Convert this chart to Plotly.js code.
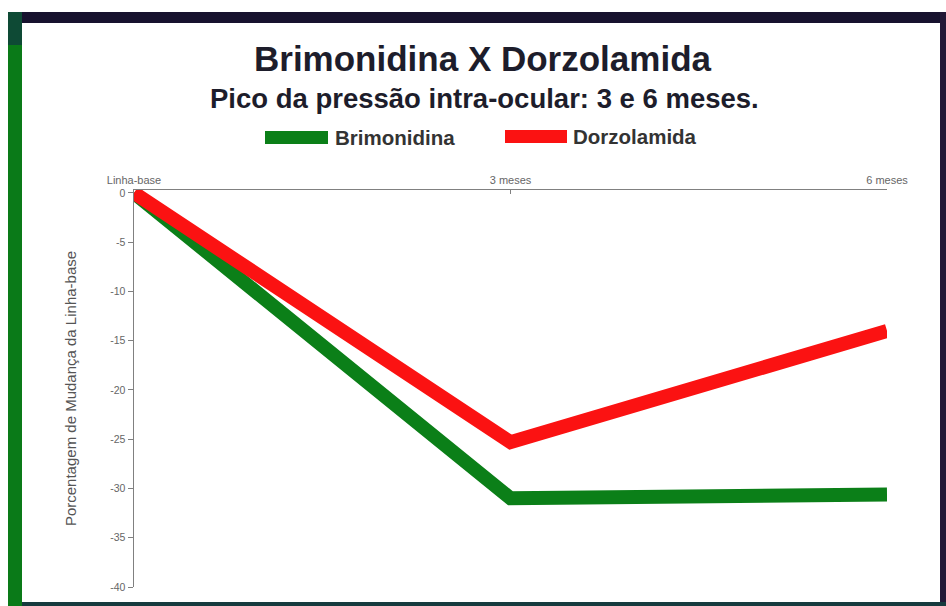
<!DOCTYPE html>
<html>
<head>
<meta charset="utf-8">
<script src="https://cdn.plot.ly/plotly-3.0.1.min.js"></script>
<style>
html,body{margin:0;padding:0;background:#ffffff;}
#chart{width:946px;height:606px;}
</style>
</head>
<body>
<div id="chart"></div>
<script>
const months = [0, 3, 6];
const tickLabels = ['Linha-base', '3 meses', '6 meses'];
const brimonidina = [0, -31.0, -30.6];
const dorzolamida = [0, -25.3, -14.0];
const seriesNames = ['Brimonidina', 'Dorzolamida'];
const yTicks = [0, -5, -10, -15, -20, -25, -30, -35, -40];

const W = 946, H = 606;
const mL = 134, mR = 59, mT = 190, mB = 19;
const pw = W - mL - mR, ph = H - mT - mB;
const px = x => (x - mL) / pw;
const py = y => (H - mB - y) / ph;

const green = '#0b7f18';
const red = '#fb1212';
const font = 'Liberation Sans, Arial, sans-serif';

const traces = [
  {x: months, y: brimonidina, name: seriesNames[0], mode: 'lines',
   line: {color: green, width: 14}, showlegend: false, hoverinfo: 'skip'},
  {x: months, y: dorzolamida, name: seriesNames[1], mode: 'lines',
   line: {color: red, width: 14}, showlegend: false, hoverinfo: 'skip'}
];

const shapes = [
  // frame
  {type:'rect', xref:'paper', yref:'paper', x0:px(8), x1:px(946), y0:py(12), y1:py(23), fillcolor:'#17122e', line:{width:0}, layer:'above'},
  {type:'rect', xref:'paper', yref:'paper', x0:px(940), x1:px(946), y0:py(12), y1:py(606), fillcolor:'#221836', line:{width:0}, layer:'above'},
  {type:'rect', xref:'paper', yref:'paper', x0:px(8), x1:px(946), y0:py(602), y1:py(606), fillcolor:'#163a3e', line:{width:0}, layer:'above'},
  {type:'rect', xref:'paper', yref:'paper', x0:px(8), x1:px(22), y0:py(12), y1:py(606), fillcolor:'#0a7a18', line:{width:0}, layer:'above'},
  {type:'rect', xref:'paper', yref:'paper', x0:px(8), x1:px(22), y0:py(12), y1:py(45), fillcolor:'#0e4a35', line:{width:0}, layer:'above'},
  // legend samples
  {type:'rect', xref:'paper', yref:'paper', x0:px(265), x1:px(328), y0:py(131), y1:py(144), fillcolor:green, line:{width:0}},
  {type:'rect', xref:'paper', yref:'paper', x0:px(505), x1:px(567), y0:py(130), y1:py(143), fillcolor:red, line:{width:0}}
];

const annotations = [
  {text:'<b>Brimonidina X Dorzolamida</b>', xref:'paper', yref:'paper', x:px(483), y:py(58), xanchor:'center', yanchor:'middle', showarrow:false,
   font:{family:font, size:35, color:'#1d1d2b'}},
  {text:'<b>Pico da pressão intra-ocular: 3 e 6 meses.</b>', xref:'paper', yref:'paper', x:px(484), y:py(99), xanchor:'center', yanchor:'middle', showarrow:false,
   font:{family:font, size:27.5, color:'#1d1d2b'}},
  {text:'<b>' + seriesNames[0] + '</b>', xref:'paper', yref:'paper', x:px(333), y:py(137), xanchor:'left', yanchor:'middle', showarrow:false,
   font:{family:font, size:20.5, color:'#333333'}},
  {text:'<b>' + seriesNames[1] + '</b>', xref:'paper', yref:'paper', x:px(571), y:py(136), xanchor:'left', yanchor:'middle', showarrow:false,
   font:{family:font, size:20.5, color:'#333333'}}
];

const layout = {
  width: W, height: H,
  margin: {l: mL, r: mR, t: mT, b: mB, pad: 0},
  paper_bgcolor: '#ffffff',
  plot_bgcolor: 'rgba(0,0,0,0)',
  showlegend: false,
  xaxis: {
    range: [0, 6], side: 'top', tickvals: months, ticktext: tickLabels,
    showgrid: false, zeroline: false, showline: true, linecolor: '#808080', linewidth: 1.5,
    ticks: 'inside', ticklen: 4, tickcolor: '#808080',
    tickfont: {family: font, size: 11, color: '#666666'}, fixedrange: true
  },
  yaxis: {
    range: [-40, 0.3], tickvals: yTicks, ticktext: yTicks.map(String),
    showgrid: false, zeroline: false, showline: true, linecolor: '#808080', linewidth: 1.5,
    ticks: 'outside', ticklen: 5, tickcolor: '#808080',
    tickfont: {family: font, size: 10.5, color: '#666666'},
    title: {text: 'Porcentagem de Mudança da Linha-base', font: {family: font, size: 15, color: '#555555'}, standoff: 30},
    fixedrange: true
  },
  shapes: shapes,
  annotations: annotations
};

Plotly.newPlot('chart', traces, layout, {displayModeBar: false, staticPlot: true});
</script>
</body>
</html>
